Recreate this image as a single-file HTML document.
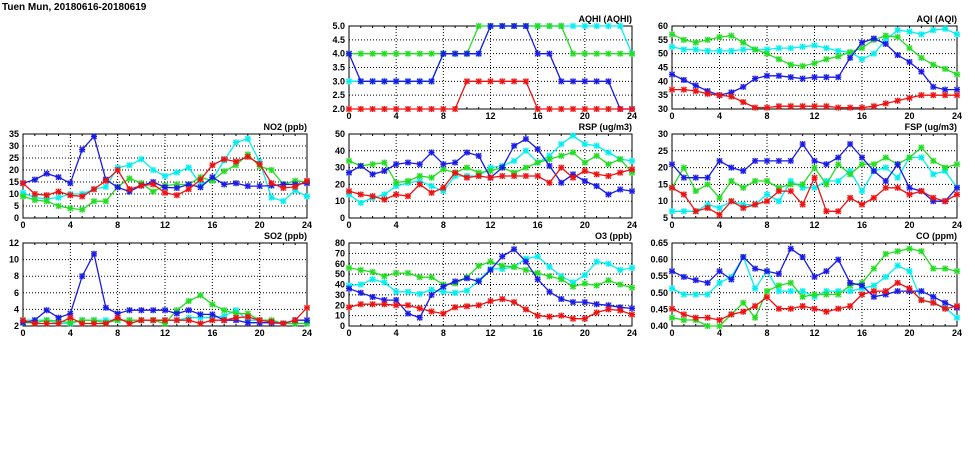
<!DOCTYPE html>
<html><head><meta charset="utf-8">
<style>
html,body{margin:0;padding:0;background:#fff;}
body{width:975px;height:447px;overflow:hidden;font-family:"Liberation Sans",sans-serif;}
svg text{font-family:"Liberation Sans",sans-serif;font-weight:bold;}
</style></head>
<body>
<svg id="chart" width="975" height="447" viewBox="0 0 975 447" xmlns="http://www.w3.org/2000/svg">
<text x="2" y="10" font-size="10">Tuen Mun, 20180616-20180619</text>
</svg>
<script>
const hours=[0,1,2,3,4,5,6,7,8,9,10,11,12,13,14,15,16,17,18,19,20,21,22,23,24];
const xTickLabels=[0,4,8,12,16,20,24];
const seriesNames=["cyan","green","blue","red"];
const seriesColors=["#00f0f0","#22dd22","#1a1ae6","#ee1111"];

const no2Cyan=[10.5,8.5,8,8.5,10,10,12,13,21,22,24.5,20,17.5,19,21,14,16,24,31.5,33,23.5,8.5,7,11.5,9];
const no2Green=[9,7.5,7,5,4,3.5,7,7,13,16.5,14.5,11,13.5,14,14,17,15.5,19.5,22,26.5,21.5,20,14,15.5,15];
const no2Blue=[14.5,16,18.5,17,14.5,28.5,34,16,12.8,11,13.5,15,12.8,12.5,14,12.8,17,14,14.5,13.3,13.3,13.5,14,14,14.5];
const no2Red=[14.5,10,9.5,11,9.5,9,12,15.5,20,12,13.5,14,10.5,9.5,12,16,22,24.5,23.5,25.5,22.5,14.5,12.5,13,15.5];
const no2Ticks=[0,5,10,15,20,25,30,35];

const so2Cyan=[2.7,2.7,2.7,2.3,2.3,2.7,2.7,2.7,2.7,2.7,2.7,2.7,2.7,2.7,3,3,3,3.2,3.9,2.7,2.7,2.6,2.3,2.3,2.3];
const so2Green=[2.4,2.4,2.7,2.6,2.4,2.7,2.7,2.4,2.7,2.7,2.7,2.7,2.3,3.9,5,5.7,4.6,3.9,3.5,3.5,2.7,2.7,2.3,2.3,2.3];
const so2Blue=[2.4,2.7,3.9,3,3.5,8,10.7,4.2,3.5,3.9,3.9,3.9,3.9,3.5,3.9,3.4,3.4,2.7,2.7,2.4,2.4,2.4,2.3,2.7,2.7];
const so2Red=[2.7,2.3,2.3,2.3,3,2.3,2.3,2.3,3,2.3,2.7,2.7,2.7,2.7,2.7,2.3,2.7,2.7,3,3.1,2.7,2.5,2.3,2.7,4.2];
const so2Ticks=[2,4,6,8,10,12];

const aqhiCyan=[3,3,3,3,3,3,3,3,4,4,4,4,5,5,5,5,5,5,5,5,5,5,5,5,4];
const aqhiGreen=[4,4,4,4,4,4,4,4,4,4,4,5,5,5,5,5,5,5,5,4,4,4,4,4,4];
const aqhiBlue=[4,3,3,3,3,3,3,3,4,4,4,4,5,5,5,5,4,4,3,3,3,3,3,2,2];
const aqhiRed=[2,2,2,2,2,2,2,2,2,2,3,3,3,3,3,3,2,2,2,2,2,2,2,2,2];
const aqhiTicks=["2.0","2.5","3.0","3.5","4.0","4.5","5.0"];

const rspCyan=[14,9,12,14,19,21,22,19,16,25,25,25,30,31,34,40,33,37,44,49,44,43,39,35,34];
const rspGreen=[34,31,32,33,21,22,25,24,29,27,30,27,28,30,27,30,33,35,37,39,33,37,32,35,27];
const rspBlue=[27,31,26,28,32,33,32,39,32,33,39,37,24,30,43,47,41,31,21,26,22,19,14,17,16];
const rspRed=[16,14,13,11,14,13,20,15,18,27,24,25,24,25,25,25,25,21,30,24,28,26,25,27,29];
const rspTicks=[0,10,20,30,40,50];

const o3Cyan=[39,40,45,42,33,33,31,35,33,32,34,44,55,55,57,65,67,57,48,42,49,62,60,54,56];
const o3Green=[56,54,52,48,51,51,47,47,40,41,47,58,62,58,57,54,51,48,45,38,41,39,44,40,37];
const o3Blue=[36,32,28,25,25,12,8,30,38,43,46,43,54,67,74,62,45,33,26,23,23,21,20,18,17];
const o3Red=[18,21,21,21,20,20,17,14,12,18,19,20,24,26,23,16,10,9,10,7,7,13,16,15,11];
const o3Ticks=[0,10,20,30,40,50,60,70,80];

const aqiCyan=[52.5,51.5,51.5,51,51,51,51.5,51.5,51.5,52,52,52.5,53,52,51,50.5,48,50,55,58.5,58,57,58.5,59,57];
const aqiGreen=[57,55,54,55,56,56.5,54,51.5,50,48,46,45.5,46.5,48,49,50.5,52,55,56.5,56,52,48.5,46,44.5,42.5];
const aqiBlue=[42.5,40.5,38.5,36.5,35,36,38,41,42,42,41.5,41,41.5,41.5,41.5,48.5,54,55.5,53.5,49.5,47,43.5,38,37,37];
const aqiRed=[37,37,36.5,35.5,35,34.5,32.5,30.5,30.5,31,31,31,31,31,30.5,30.5,30.5,31,32,33,34,35,35,35,35];
const aqiTicks=[30,35,40,45,50,55,60];

const fspCyan=[7,7,7,9,8,10,9,9,12,10,16,14,14,16,16,19,13,19,20,17,23,23,18,19,14];
const fspGreen=[14,20,13,15,11,16,14,16,16,14,15,15,20,15,21,18,21,21,23,21,23,26,22,20,21];
const fspBlue=[21,17,17,17,22,20,19,22,22,22,22,27,22,21,23,27,23,19,16,21,14,13,10,10,14];
const fspRed=[14,12,7,8,6,10,8,9,10,13,13,9,17,7,7,11,9,11,14,14,12,13,11,10,12];
const fspTicks=[5,10,15,20,25,30];

const coCyan=[.513,.495,.495,.495,.530,.548,.608,.513,.565,.505,.505,.505,.488,.505,.505,.505,.513,.522,.548,.582,.565,.478,.470,.455,.425];
const coGreen=[.425,.418,.418,.400,.400,.435,.470,.425,.505,.522,.530,.488,.495,.495,.495,.522,.530,.573,.617,.625,.633,.625,.573,.573,.565];
const coBlue=[.565,.548,.538,.530,.565,.540,.608,.573,.565,.557,.633,.608,.548,.565,.600,.530,.522,.488,.495,.505,.505,.505,.488,.470,.455];
const coRed=[.452,.435,.425,.425,.418,.435,.443,.460,.487,.452,.452,.460,.452,.443,.452,.460,.495,.505,.505,.530,.513,.478,.470,.452,.460];
const coTicks=["0.40","0.45","0.50","0.55","0.60","0.65"];

const panels=[
 {id:"no2",title:"NO2 (ppb)",x0:23,x1:307,y0:134,y1:218,ticks:no2Ticks,series:[no2Cyan,no2Green,no2Blue,no2Red]},
 {id:"so2",title:"SO2 (ppb)",x0:23,x1:307,y0:243,y1:326,ticks:so2Ticks,series:[so2Cyan,so2Green,so2Blue,so2Red]},
 {id:"aqhi",title:"AQHI (AQHI)",x0:349,x1:632,y0:26,y1:109,ticks:aqhiTicks,series:[aqhiCyan,aqhiGreen,aqhiBlue,aqhiRed]},
 {id:"rsp",title:"RSP (ug/m3)",x0:349,x1:632,y0:134,y1:218,ticks:rspTicks,series:[rspCyan,rspGreen,rspBlue,rspRed]},
 {id:"o3",title:"O3 (ppb)",x0:349,x1:632,y0:243,y1:326,ticks:o3Ticks,series:[o3Cyan,o3Green,o3Blue,o3Red]},
 {id:"aqi",title:"AQI (AQI)",x0:672,x1:957,y0:26,y1:109,ticks:aqiTicks,series:[aqiCyan,aqiGreen,aqiBlue,aqiRed]},
 {id:"fsp",title:"FSP (ug/m3)",x0:672,x1:957,y0:134,y1:218,ticks:fspTicks,series:[fspCyan,fspGreen,fspBlue,fspRed]},
 {id:"co",title:"CO (ppm)",x0:672,x1:957,y0:243,y1:326,ticks:coTicks,series:[coCyan,coGreen,coBlue,coRed]}
];

const svg=document.getElementById('chart');
const NS="http://www.w3.org/2000/svg";
function mk(tag,attrs,parent){const e=document.createElementNS(NS,tag);for(const k in attrs)e.setAttribute(k,attrs[k]);(parent||svg).appendChild(e);return e;}

panels.forEach(p=>{
  const g=mk('g',{});
  
  
  const tmin=parseFloat(p.ticks[0]),tmax=parseFloat(p.ticks[p.ticks.length-1]);
  const xs=h=>p.x0+(h-0)/24*(p.x1-p.x0);
  const ys=v=>p.y1-(v-tmin)/(tmax-tmin)*(p.y1-p.y0);
  p.ticks.forEach(t=>{
    const y=ys(parseFloat(t));
    if(y>p.y0+0.5&&y<p.y1-0.5){
      const l=mk('line',{x1:p.x0,x2:p.x1,y1:y,y2:y,stroke:'#000','stroke-width':1,'stroke-dasharray':'1,2'},g);
      
      
    }
    const tx=mk('text',{x:p.x0-4,y:y+3,'font-size':9,'text-anchor':'end'},g);
    tx.textContent=t;
    
    
  });
  xTickLabels.forEach(h=>{
    const x=xs(h);
    if(h>0&&h<24){
      const l=mk('line',{x1:x,x2:x,y1:p.y0,y2:p.y1,stroke:'#000','stroke-width':1,'stroke-dasharray':'1,2'},g);
      
      
    }
    const tx=mk('text',{x:x,y:p.y1+10,'font-size':9,'text-anchor':'middle'},g);
    tx.textContent=h;
    
    
  });
  hours.forEach(h=>{
    const x=xs(h);
    mk('line',{x1:x,x2:x,y1:p.y1,y2:p.y1-2,stroke:'#000'},g);
    mk('line',{x1:x,x2:x,y1:p.y0,y2:p.y0+2,stroke:'#000'},g);
  });
  const fr=mk('rect',{x:p.x0,y:p.y0,width:p.x1-p.x0,height:p.y1-p.y0,fill:'none',stroke:'#000','stroke-width':1},g);
  
  
  const tt=mk('text',{x:p.x1,y:p.y0-4,'font-size':9,'text-anchor':'end'},g);
  tt.textContent=p.title;
  
  
  const cid='clip-'+p.id;
  const cp=mk('clipPath',{id:cid},g);
  mk('rect',{x:p.x0-4,y:p.y0-4,width:p.x1-p.x0+8,height:p.y1-p.y0+8},cp);
  p.series.forEach((vals,si)=>{
    const sg=mk('g',{'clip-path':'url(#'+cid+')'},g);
    
    
    const col=seriesColors[si];
    const pts=vals.map((v,i)=>xs(hours[i]).toFixed(1)+','+ys(v).toFixed(1)).join(' ');
    const pl=mk('polyline',{points:pts,fill:'none',stroke:col,'stroke-width':1.3},sg);
    
    
    vals.forEach((v,i)=>{
      const cx=xs(hours[i]),cy=ys(v);
      const m=mk('g',{},sg);
      
      
      mk('rect',{x:cx-3,y:cy-3,width:6,height:6,fill:col,opacity:0.25},m);
      mk('path',{d:`M${cx-2.5},${cy-2.5}L${cx+2.5},${cy+2.5}M${cx-2.5},${cy+2.5}L${cx+2.5},${cy-2.5}M${cx},${cy-3}L${cx},${cy+3}M${cx-3},${cy}L${cx+3},${cy}`,stroke:col,'stroke-width':1.2,fill:'none'},m);
    });
  });
});
</script>
</body></html>
